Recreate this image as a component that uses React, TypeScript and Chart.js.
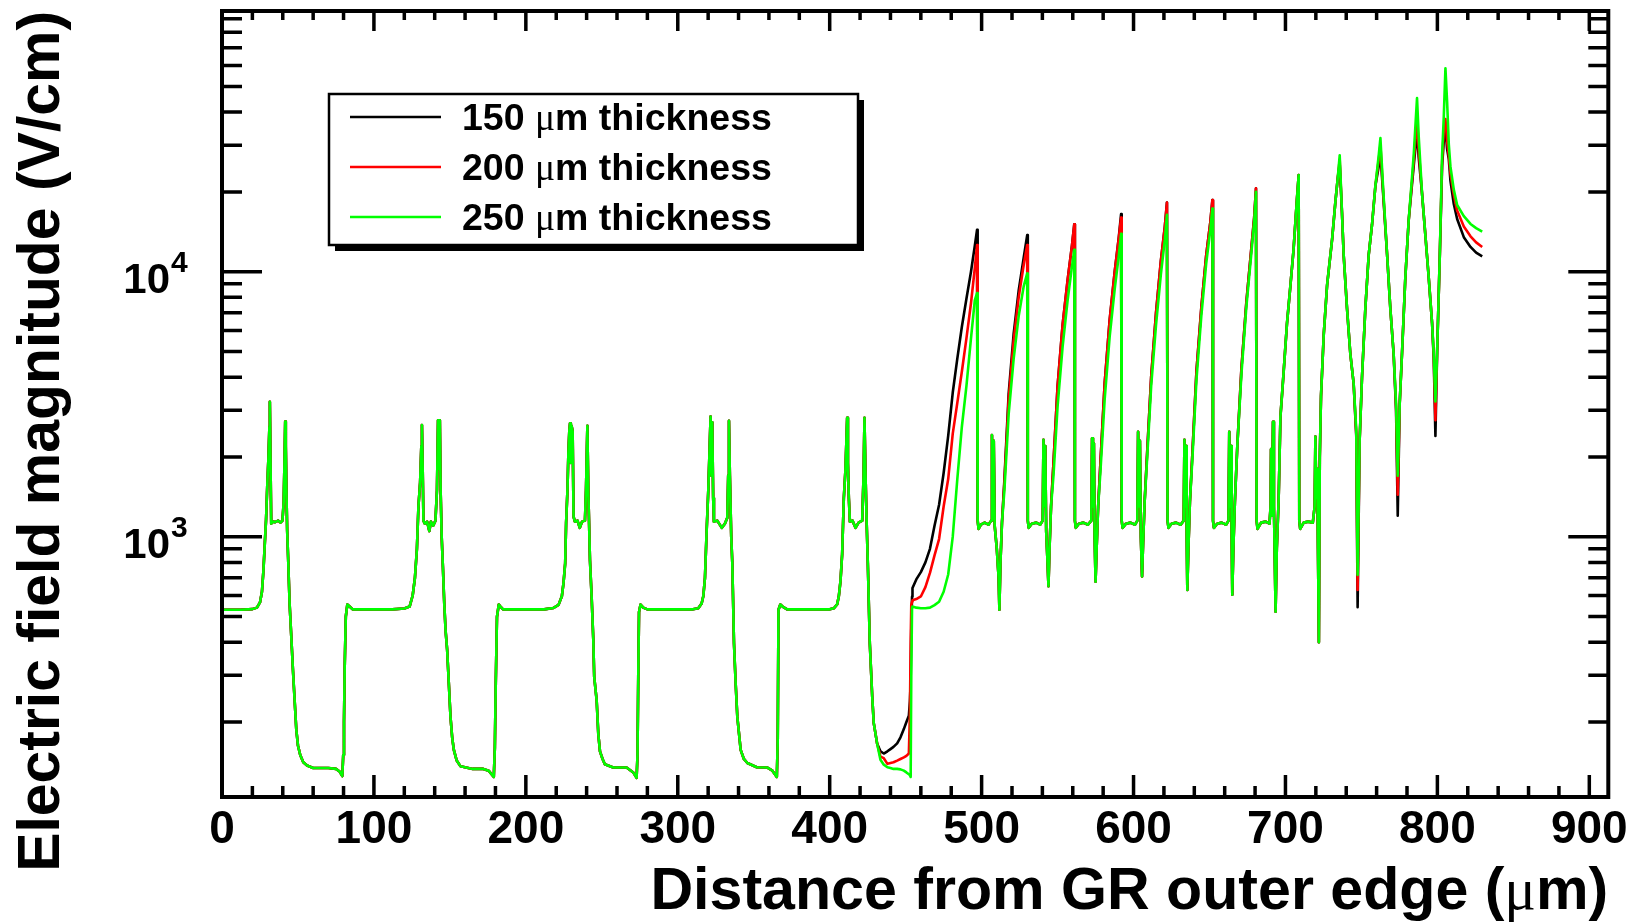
import React, { useEffect, useRef } from 'react';
import { Chart, registerables } from 'chart.js';

Chart.register(...registerables);

const W = 1637;
const H = 924;

// ---------- data ----------
// part shared by all three thicknesses (0 - 431 um)
const commonX = [
  0, 12, 20, 23, 25, 26.3, 27.3, 28.2, 29, 29.8, 30.6, 31.2, 31.5, 31.9, 32.4, 33.5, 35, 37, 38.5, 39.8, 40.6, 41.2, 41.6, 42.0, 42.4, 42.9, 43.5, 44.5, 45.6, 46.7, 47.8, 48.9, 50, 51.5, 53.5, 56, 60, 70, 75, 77.4, 79.2, 79.8, 80.3, 80.8, 81.5, 82.5, 84, 86,
  112, 120, 123.5, 125.5, 127, 128.3, 129.3, 130.4, 131.2, 131.6, 132.1, 132.6, 133.5, 135, 136.5, 137.5, 139, 140.5, 141.5, 142.2, 142.8, 143.4, 143.9, 144.6, 145.4, 146.3, 147.2, 148.2, 149.3, 150.4, 151.5, 152.6, 154.5, 157, 165, 172, 175.5, 178.9, 179.6, 180.2, 181, 182.2, 183.3, 185,
  212, 218, 221.5, 223.7, 224.8, 225.9, 226.5, 227.4, 228, 228.6, 229.1, 229.6, 230.1, 230.8, 231.4, 232.3, 234, 235.5, 237, 238.9, 239.6, 240.5, 241.1, 242.2, 243.3, 244.4, 245, 246.6, 247.7, 248.8, 250.5, 252, 257.5, 266.3, 270.7, 272.9, 273.5, 274, 274.5, 275.5, 277.3, 280,
  310, 313.5, 315.7, 316.8, 317.9, 319, 320.1, 320.9, 321.6, 322.2, 322.7, 323.3, 323.8, 326, 329, 331, 332.6, 333.2, 333.7, 334.3, 335.2, 335.9, 337, 338.1, 339.2, 341.4, 343.5, 345.8, 352, 359, 362.3, 365.2, 365.8, 366.3, 367.5, 369, 372,
  400, 402.7, 404.9, 406, 407.1, 408.2, 409.3, 410.4, 411, 411.5, 412, 412.6, 413.3, 415, 417, 419, 421.4, 422.3, 422.9, 423.5, 424.3, 425.1, 426.4, 428, 429, 431.2,
];
const commonY = [
  530, 530, 533, 540, 565, 620, 750, 950, 1160, 1560, 2000, 2600, 3230, 2000, 1120, 1140, 1135, 1150, 1130, 1150, 1350, 2000, 2720, 2200, 1500, 1050, 840, 560, 420, 314, 242, 187, 163, 150, 141, 137, 134, 134, 133, 130, 125, 150, 200, 330, 500, 555, 545, 532,
  532, 536, 545, 600, 700, 900, 1300, 1600, 2200, 2640, 1800, 1150, 1120, 1140, 1050, 1140, 1100, 1150, 1500, 2750, 1800, 2750, 1500, 1000, 771, 560, 440, 374, 280, 209, 175, 157, 143, 136, 133, 133, 131, 124, 160, 280, 499, 555, 545, 532,
  532, 538, 553, 596, 670, 795, 1125, 1503, 2066, 2500, 2680, 1900, 2620, 2500, 1190, 1140, 1150, 1080, 1140, 1150, 1500, 2620, 1500, 817, 594, 408, 296, 242, 180, 155, 145, 138.5, 134.6, 134.6, 129, 123, 150, 300, 520, 555, 540, 532,
  532, 537, 560, 596, 700, 1050, 1500, 2100, 2840, 1700, 2700, 1400, 1140, 1150, 1080, 1120, 1180, 1700, 2740, 1700, 1000, 794, 396, 280, 209, 157, 145, 140, 135, 134.6, 131, 124, 170, 530, 555, 545, 532,
  532, 537, 555, 596, 680, 860, 1400, 1800, 2300, 2810, 1900, 1400, 1140, 1150, 1080, 1130, 1150, 1700, 2810, 1800, 1150, 794, 396, 249, 198, 166,
];

// part where the thicknesses differ (431 - 830 um)
const tailX = [
  433.4, 435.6, 438, 440, 442, 444.4, 446.6, 448.8, 450.5, 452.1, 452.8, 453.3, 453.7, 454.2, 454.5, 457, 460, 463, 466, 469, 472, 475, 478, 481, 484, 487, 490, 493, 495.5, 497,
  497.4, 498, 499.5, 502, 504.5, 506.3, 506.8, 507.4, 508, 508.6, 510, 511.2, 511.7, 512.4, 513.4, 515, 517.8, 521.1, 524.4, 527.7, 530,
  530.4, 531, 533, 536, 538.5, 540.2, 540.7, 541.3, 541.9, 542.5, 543.4, 544, 544.7, 545.7, 547.3, 550, 553.3, 556.6, 559.5, 561,
  561.4, 562, 564, 567, 570, 572.2, 572.7, 573.3, 573.9, 574.4, 575, 575.7, 576.7, 578.3, 581, 584.3, 587.6, 590.3, 591.8,
  592.2, 592.8, 595, 598, 601, 602.5, 603, 603.6, 604.2, 604.8, 605.6, 606.3, 607.3, 609, 611.6, 614.8, 618, 620.6, 622,
  622.4, 623, 625, 628, 631, 633, 633.5, 634.1, 634.7, 635, 635.4, 636.1, 637.1, 638.8, 641.4, 644.6, 647.8, 650.5, 651.9,
  652.3, 652.9, 655, 658, 661, 662.5, 663, 663.6, 664.2, 664.6, 665, 665.7, 666.7, 668.3, 671, 674.2, 677.4, 679.4, 680.6,
  681, 681.6, 684, 687, 689.5, 690.2, 690.5, 691, 691.8, 692.4, 693, 693.5, 694.3, 695.5, 696.7, 698.9, 701, 703.2, 705.3, 707.5, 708.7,
  709.1, 709.7, 712, 715, 718, 719.2, 719.7, 720.3, 720.9, 721.4, 722, 722.6, 723.4, 725.2, 727.4, 730.7, 732.9, 734.4, 735.7,
  737.2, 738.3, 740.5, 742.7, 744.9, 746.6, 747.5, 748.8, 750.4, 752.6, 754.8, 757, 759.2, 761.4, 762.5,
  764.2, 766.9, 769, 771.2, 772.8, 773.9, 775.2, 776.7, 778.9, 781.1, 784.4, 786.6,
  787.7, 789.9, 792.1, 794.3, 796.5, 797.6, 798.7, 799.8, 801.6, 803.1, 804.2, 805.3,
  806.4, 807.5, 808.6, 810.8, 813, 817.4, 821.8, 825.5, 829.5,
];
const blackTailY = [
  155, 152, 155, 158, 161, 166, 175, 188, 200, 211, 240, 284, 450, 594, 640, 690, 735, 800, 900, 1100, 1320, 1740, 2400, 3500, 4700, 6200, 7900, 10000, 12500, 14400,
  1150, 1070, 1110, 1130, 1110, 1150, 2420, 1350, 2300, 1100, 900, 700, 530, 800, 1130, 1640, 3470, 5840, 8490, 11300, 13740,
  1150, 1080, 1120, 1130, 1110, 1150, 2320, 1300, 2200, 1050, 800, 650, 900, 1300, 1900, 3700, 6300, 9300, 12600, 15100,
  1150, 1080, 1120, 1130, 1110, 1150, 2350, 1300, 2250, 1000, 677, 900, 1300, 1950, 3800, 6600, 10000, 13500, 16500,
  1150, 1080, 1120, 1130, 1110, 1150, 2490, 1300, 2300, 1000, 708, 950, 1350, 2100, 4000, 7000, 11000, 14800, 18250,
  1150, 1080, 1120, 1130, 1110, 1150, 2320, 1300, 2200, 1000, 630, 900, 1350, 2100, 4200, 7300, 11500, 15300, 18620,
  1150, 1080, 1120, 1130, 1110, 1150, 2490, 1300, 2200, 1000, 604, 900, 1350, 2200, 4300, 7600, 12000, 16000, 20620,
  1150, 1070, 1130, 1140, 1120, 1300, 2140, 1200, 2715, 1300, 800, 521, 900, 1375, 2840, 4260, 6380, 8780, 12070, 18620, 23170,
  1150, 1070, 1130, 1140, 1130, 1300, 2385, 1400, 1800, 900, 400, 2000, 3400, 5800, 8900, 13250, 18450, 22500, 25500,
  16700, 11600, 7290, 4900, 3770, 2400, 542, 2290, 4020, 7300, 11600, 15100, 21100, 25000, 28000,
  20000, 11600, 7300, 4900, 3000, 1200, 3190, 4900, 9500, 15600, 25000, 34000,
  27000, 19700, 13700, 9500, 6400, 4700, 2400, 4900, 11600, 25000, 31000, 34700,
  29000, 26600, 22000, 18000, 15800, 13500, 12400, 11800, 11420,
];
const redTailY = [
  148, 146, 139, 140, 141, 143, 145, 147, 149, 152, 215, 400, 553, 570, 576, 582, 595, 645, 730, 850, 980, 1300, 1650, 2450, 3200, 4200, 5600, 7600, 10300, 12600,
  1150, 1070, 1110, 1130, 1110, 1150, 2420, 1350, 2300, 1100, 900, 700, 530, 800, 1130, 1600, 3300, 5500, 8000, 10600, 12600,
  1150, 1080, 1120, 1130, 1110, 1150, 2320, 1300, 2200, 1050, 800, 650, 900, 1300, 1900, 3700, 6300, 9300, 12600, 15100,
  1150, 1080, 1120, 1130, 1110, 1150, 2350, 1300, 2250, 1000, 677, 900, 1300, 1950, 3800, 6600, 10000, 13400, 16000,
  1150, 1080, 1120, 1130, 1110, 1150, 2490, 1300, 2300, 1000, 708, 950, 1350, 2100, 4000, 7000, 11000, 14800, 18250,
  1150, 1080, 1120, 1130, 1110, 1150, 2320, 1300, 2200, 1000, 630, 900, 1350, 2100, 4200, 7300, 11500, 15300, 18620,
  1150, 1080, 1120, 1130, 1110, 1150, 2490, 1300, 2200, 1000, 604, 900, 1350, 2200, 4300, 7600, 12000, 16000, 20620,
  1150, 1070, 1130, 1140, 1120, 1300, 2140, 1200, 2715, 1300, 800, 521, 900, 1375, 2840, 4260, 6380, 8780, 12070, 18620, 23170,
  1150, 1070, 1130, 1140, 1130, 1300, 2385, 1400, 1800, 900, 400, 2000, 3400, 5800, 8900, 13250, 18450, 22500, 26500,
  16700, 11600, 7290, 4900, 3770, 2450, 630, 2290, 4020, 7300, 11600, 15100, 21100, 26500, 30000,
  20500, 11600, 7300, 4900, 3100, 1440, 3190, 4900, 9500, 15600, 26000, 38000,
  29000, 19700, 13700, 9500, 6400, 4800, 2750, 4900, 11600, 26000, 34000, 37700,
  31000, 27500, 23500, 19500, 17000, 14800, 13600, 12900, 12400,
];
const greenTailY = [
  144, 138, 135, 134, 133, 133, 132.5, 131, 129, 127, 126, 124, 300, 540, 545, 540, 537, 537, 540, 552, 568, 620, 720, 1000, 1650, 2600, 3700, 5600, 7800, 8300,
  1150, 1070, 1110, 1130, 1110, 1150, 2420, 1350, 2300, 1100, 900, 700, 530, 800, 1130, 1500, 2900, 4700, 6800, 8800, 9850,
  1150, 1080, 1120, 1130, 1110, 1150, 2320, 1300, 2200, 1050, 800, 650, 900, 1300, 1700, 3100, 5200, 7800, 10500, 12100,
  1150, 1080, 1120, 1130, 1110, 1150, 2350, 1300, 2250, 1000, 677, 900, 1300, 1800, 3300, 5700, 8600, 11500, 13900,
  1150, 1080, 1120, 1130, 1110, 1150, 2490, 1300, 2300, 1000, 708, 950, 1350, 2000, 3700, 6300, 9800, 13200, 16400,
  1150, 1080, 1120, 1130, 1110, 1150, 2320, 1300, 2200, 1000, 630, 900, 1350, 2000, 3900, 6800, 10700, 14300, 17300,
  1150, 1080, 1120, 1130, 1110, 1150, 2490, 1300, 2200, 1000, 604, 900, 1350, 2200, 4100, 7300, 11500, 15400, 20000,
  1150, 1070, 1130, 1140, 1120, 1300, 2140, 1200, 2715, 1300, 800, 521, 900, 1375, 2840, 4260, 6380, 8780, 12070, 18620, 23170,
  1150, 1070, 1130, 1140, 1130, 1300, 2385, 1400, 1800, 900, 400, 2000, 3400, 5800, 8900, 13250, 18450, 22500, 27500,
  16700, 11600, 7290, 4900, 3770, 2530, 718, 2290, 4020, 7300, 11600, 15100, 21100, 27500, 31900,
  21100, 11600, 7300, 4900, 3190, 1700, 3190, 4900, 9500, 15600, 27500, 45200,
  32400, 19700, 13700, 9500, 6400, 4900, 3240, 4900, 11600, 27500, 38300, 58500,
  43700, 30300, 24900, 20400, 17850, 16200, 15140, 14600, 14160,
];

const seriesLabels = ['150 \u03bcm thickness', '200 \u03bcm thickness', '250 \u03bcm thickness'];
const seriesColors = ['#000000', '#ff0000', '#00ff00'];
const xTickValues = [0, 100, 200, 300, 400, 500, 600, 700, 800, 900];
const xTickLabels = ['0', '100', '200', '300', '400', '500', '600', '700', '800', '900'];
const xMinorStep = 20;
const yLabelDecades = [3, 4];
const yTickDecades = [2, 3, 4];
const xTitle = 'Distance from GR outer edge (\u03bcm)';
const yTitle = 'Electric field magnitude (V/cm)';

const X_MIN = 0;
const X_MAX = 912.5;
const Y_MIN = 104.2;
const Y_MAX = 96300;

const SANS = '"Liberation Sans", Arial, Helvetica, sans-serif';
const SERIF = '"Liberation Serif", "DejaVu Serif", serif';

function toPoints(xs: number[], ys: number[]) {
  return xs.map((x, i) => ({ x, y: ys[i] }));
}

type Seg = { t: string; f: string; w: number };

function richSegs(ctx: CanvasRenderingContext2D, text: string, size: number): { segs: Seg[]; total: number } {
  const parts = text.split('\u03bc');
  const segs: Seg[] = [];
  parts.forEach((p, i) => {
    if (i > 0) segs.push({ t: '\u03bc', f: `${size}px ${SERIF}`, w: 0 });
    if (p) segs.push({ t: p, f: `bold ${size}px ${SANS}`, w: 0 });
  });
  let total = 0;
  for (const s of segs) {
    ctx.font = s.f;
    s.w = ctx.measureText(s.t).width;
    total += s.w;
  }
  return { segs, total };
}

function drawRich(ctx: CanvasRenderingContext2D, text: string, x: number, y: number, size: number, align: 'left' | 'right') {
  const { segs, total } = richSegs(ctx, text, size);
  let cx = align === 'left' ? x : x - total;
  ctx.textAlign = 'left';
  ctx.textBaseline = 'alphabetic';
  for (const s of segs) {
    ctx.font = s.f;
    ctx.fillText(s.t, cx, y);
    cx += s.w;
  }
}

function fitSize(ctx: CanvasRenderingContext2D, text: string, base: number, target: number) {
  const { total } = richSegs(ctx, text, base);
  const s = (base * target) / total;
  return Math.max(base * 0.85, Math.min(base * 1.15, s));
}

const rootStyle = {
  id: 'rootStyle',
  afterDatasetsDraw(chart: any) {
    const ctx: CanvasRenderingContext2D = chart.ctx;
    const a = chart.chartArea;
    const xs = chart.scales.x;
    const ys = chart.scales.y;
    ctx.save();
    ctx.strokeStyle = '#000';
    ctx.fillStyle = '#000';
    ctx.lineCap = 'butt';

    // x ticks (bottom and top, pointing inward)
    ctx.lineWidth = 3.5;
    ctx.beginPath();
    for (let v = X_MIN; v <= X_MAX; v += xMinorStep) {
      const px = xs.getPixelForValue(v);
      const major = xTickValues.includes(v);
      ctx.moveTo(px, a.bottom);
      ctx.lineTo(px, a.bottom - (major ? 22 : 11));
      ctx.moveTo(px, a.top);
      ctx.lineTo(px, a.top + (major ? 20 : 9));
    }
    // y ticks (left and right)
    for (const d of yTickDecades) {
      for (let m = 1; m <= 9; m++) {
        const v = m * Math.pow(10, d);
        if (v < Y_MIN || v > Y_MAX) continue;
        const py = ys.getPixelForValue(v);
        const len = m === 1 ? 40 : 20;
        ctx.moveTo(a.left, py);
        ctx.lineTo(a.left + len, py);
        ctx.moveTo(a.right, py);
        ctx.lineTo(a.right - len, py);
      }
    }
    ctx.stroke();

    // frame
    ctx.lineWidth = 4;
    ctx.strokeRect(a.left, a.top, a.right - a.left, a.bottom - a.top);

    // x tick labels
    ctx.font = `bold 46px ${SANS}`;
    ctx.textAlign = 'center';
    ctx.textBaseline = 'alphabetic';
    xTickValues.forEach((v, i) => {
      ctx.fillText(xTickLabels[i], xs.getPixelForValue(v), 843);
    });

    // y tick labels 10^n
    for (const d of yLabelDecades) {
      const py = ys.getPixelForValue(Math.pow(10, d));
      ctx.font = `bold 42px ${SANS}`;
      ctx.textAlign = 'right';
      ctx.fillText('10', 170, py + 21.5);
      ctx.font = `bold 30px ${SANS}`;
      ctx.textAlign = 'left';
      ctx.fillText(String(d), 171, py + 0.5);
    }

    // x title
    const xs2 = fitSize(ctx, xTitle, 58, 958);
    drawRich(ctx, xTitle, a.right, 909, xs2, 'right');

    // y title
    const ys2 = fitSize(ctx, yTitle, 58, 861);
    ctx.save();
    ctx.translate(59, a.top);
    ctx.rotate(-Math.PI / 2);
    drawRich(ctx, yTitle, 0, 0, ys2, 'right');
    ctx.restore();

    // legend box with shadow
    const L = 329, T = 94, R = 858, B = 245, sh = 6;
    ctx.fillStyle = '#000';
    ctx.fillRect(L + sh, T + sh, R - L, B - T);
    ctx.fillStyle = '#fff';
    ctx.fillRect(L, T, R - L, B - T);
    ctx.lineWidth = 2.5;
    ctx.strokeStyle = '#000';
    ctx.strokeRect(L, T, R - L, B - T);
    const rows = [117, 167, 217];
    seriesLabels.forEach((lab, i) => {
      ctx.strokeStyle = seriesColors[i];
      ctx.lineWidth = 2.5;
      ctx.beginPath();
      ctx.moveTo(350, rows[i]);
      ctx.lineTo(441, rows[i]);
      ctx.stroke();
      ctx.fillStyle = '#000';
      drawRich(ctx, lab, 462, rows[i] + 13, 37.5, 'left');
    });

    ctx.restore();
  },
};

export default function App() {
  const ref = useRef<HTMLCanvasElement | null>(null);
  useEffect(() => {
    const canvas = ref.current;
    if (!canvas) return;
    const mk = (i: number, ys: number[], order: number) => ({
      label: seriesLabels[i],
      data: [...toPoints(commonX, commonY), ...toPoints(tailX, ys)],
      borderColor: seriesColors[i],
      backgroundColor: seriesColors[i],
      borderWidth: 2.6,
      borderJoinStyle: 'round' as const,
      pointRadius: 0,
      tension: 0,
      fill: false,
      order,
    });
    const chart = new Chart(canvas, {
      type: 'line',
      data: {
        datasets: [mk(0, blackTailY, 3), mk(1, redTailY, 2), mk(2, greenTailY, 1)],
      },
      options: {
        animation: false,
        responsive: false,
        maintainAspectRatio: false,
        events: [],
        layout: { padding: { left: 222, right: W - 1608.3, top: 11, bottom: H - 797 } },
        scales: {
          x: { type: 'linear', min: X_MIN, max: X_MAX, display: false },
          y: { type: 'logarithmic', min: Y_MIN, max: Y_MAX, display: false },
        },
        plugins: { legend: { display: false }, tooltip: { enabled: false }, title: { display: false } },
      },
      plugins: [rootStyle],
    } as any);
    return () => chart.destroy();
  }, []);
  return (
    <div style={{ position: 'fixed', left: 0, top: 0, width: W, height: H, background: '#fff' }}>
      <canvas ref={ref} width={W} height={H} style={{ display: 'block', width: W, height: H }} />
    </div>
  );
}
